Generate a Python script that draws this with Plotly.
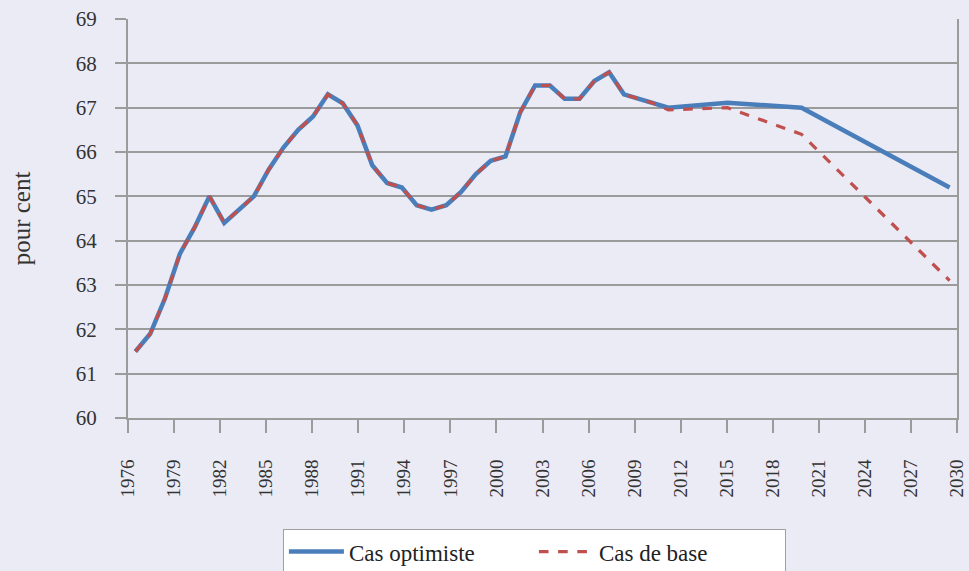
import plotly.graph_objects as go

# Data: annual series 1975-2011, projections at 2015, 2020, 2030
years = list(range(1975, 2031))
historique = [61.5, 61.9, 62.7, 63.7, 64.3, 65.0, 64.4, 64.7, 65.0, 65.6,
              66.1, 66.5, 66.8, 67.3, 67.1, 66.6, 65.7, 65.3, 65.2, 64.8,
              64.7, 64.8, 65.1, 65.5, 65.8, 65.9, 66.9, 67.5, 67.5, 67.2,
              67.2, 67.6, 67.8, 67.3, 67.2, 67.1]          # 1975-2010
optimiste_proj = {2011: 67.0, 2015: 67.11, 2020: 67.0, 2030: 65.2}
base_proj = {2011: 66.95, 2015: 67.0, 2020: 66.4, 2030: 63.1}

tick_labels = list(range(1976, 2031, 3))

def build(proj):
    vals = []
    for i, y in enumerate(years):
        if i < len(historique):
            vals.append(historique[i])
        else:
            vals.append(proj.get(y))
    return vals

optimiste = build(optimiste_proj)
base = build(base_proj)

FONT = "Liberation Serif, Times New Roman, DejaVu Serif, serif"
GRID = "#9B9B9B"
BG = "#EBEBF5"

fig = go.Figure()
fig.add_trace(go.Scatter(x=years, y=optimiste, name="Cas optimiste", mode="lines",
                         connectgaps=True,
                         line=dict(color="#4A7EBB", width=4.5)))
fig.add_trace(go.Scatter(x=years, y=base, name="Cas de base", mode="lines",
                         connectgaps=True,
                         line=dict(color="#C0504D", width=3.2, dash="dash")))
# carrier for the labelled year axis
fig.add_trace(go.Scatter(x=[tick_labels[0], tick_labels[-1]], y=[None, None],
                         xaxis="x2", mode="lines", showlegend=False, hoverinfo="skip"))

fig.update_layout(
    width=969, height=571,
    paper_bgcolor=BG, plot_bgcolor=BG,
    margin=dict(l=128, r=12, t=19, b=153, autoexpand=False),
    font=dict(family=FONT, color="#333333", size=20),
    showlegend=True,
    legend=dict(orientation="h", x=0.49, xanchor="center", y=-0.278, yanchor="top",
                bordercolor="#A0A0A0", borderwidth=1.2, bgcolor="#FFFFFF",
                font=dict(size=23, family=FONT, color="#222222"),
                entrywidth=180, itemwidth=55),
    xaxis=dict(range=[1974.5, 2030.5], visible=False, showgrid=False, zeroline=False),
    xaxis2=dict(overlaying="x", anchor="y", side="bottom",
                range=[tick_labels[0], tick_labels[-1]],
                tickmode="array", tickvals=tick_labels,
                ticktext=[str(t) for t in tick_labels],
                ticks="outside", ticklen=13, tickcolor=GRID, tickwidth=1.5,
                tickangle=-90, showgrid=False, zeroline=False, automargin=False,
                showline=True, linecolor=GRID, linewidth=2,
                tickfont=dict(size=19, family=FONT, color="#333333"),
                ticklabelstandoff=19),
    yaxis=dict(range=[60, 69], dtick=1, tick0=60, automargin=False,
               showgrid=True, gridcolor=GRID, gridwidth=1.5,
               ticks="outside", ticklen=11, tickcolor=GRID, tickwidth=1.5,
               showline=True, linecolor=GRID, linewidth=2, mirror=True,
               zeroline=False,
               tickfont=dict(size=21, family=FONT, color="#333333"),
               ticklabelstandoff=14,
               title=dict(text="pour cent", standoff=38,
                          font=dict(size=25, family=FONT, color="#333333"))),
)

fig.write_html("out.html",
               config={"displayModeBar": False},
               post_script="document.body.style.margin='0';"
                           "document.body.style.overflow='hidden';")
